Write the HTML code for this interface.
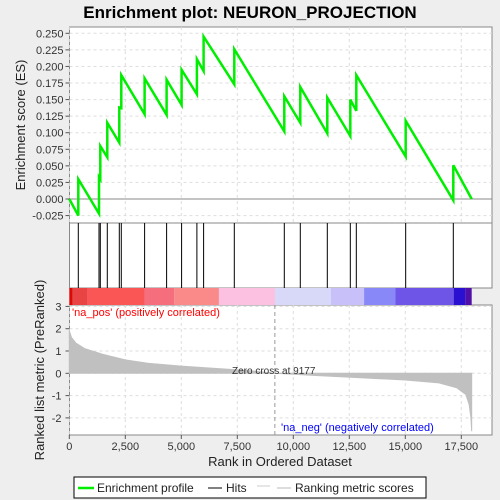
<!DOCTYPE html>
<html><head><meta charset="utf-8"><style>
body{margin:0;background:#eeeeee;}
svg{display:block;font-family:"Liberation Sans",sans-serif;}
</style></head><body>
<svg id="c" width="500" height="500">
<text x="250" y="18" text-anchor="middle" font-size="17" font-weight="bold">Enrichment plot: NEURON_PROJECTION</text>
</svg>
<script>
const hitRanks=[402,1326,1384,1696,2232,2321,3362,4344,5013,5696,5996,7366,9598,10312,11518,12545,12813,15017,17143];
const esRanks=[0,402,402,1326,1326,1384,1384,1696,1696,2232,2232,2321,2321,3362,3362,4344,4344,5013,5013,5696,5696,5996,5996,7366,7366,9598,9598,10312,10312,11518,11518,12545,12545,12813,12813,15017,15017,17143,17143,17964];
const esValues=[0,-0.025,0.030,-0.022,0.033,0.030,0.080,0.063,0.115,0.085,0.138,0.137,0.187,0.128,0.182,0.127,0.180,0.142,0.195,0.158,0.211,0.193,0.245,0.173,0.226,0.102,0.155,0.115,0.169,0.099,0.153,0.095,0.150,0.133,0.187,0.064,0.118,-0.002,0.051,0.0];
const esTicks=[-0.025,0,0.025,0.05,0.075,0.1,0.125,0.15,0.175,0.2,0.225,0.25];
const rankTicks=[0,2500,5000,7500,10000,12500,15000,17500];
const metricTicks=[-2,-1,0,1,2,3];
const metricRanks=[0,100,300,700,1500,2500,3500,5000,6500,8000,9177,11000,13000,15000,16500,17300,17700,17850,17930,17964];
const metricValues=[1.9,1.6,1.35,1.1,0.85,0.6,0.45,0.32,0.22,0.12,0,-0.1,-0.2,-0.3,-0.43,-0.65,-0.95,-1.4,-2.0,-2.6];
const segStarts=[0,150,820,3360,4680,6680,9180,11680,13160,14560,17160,17680];
const segColors=["#dd0808","#e84444","#fa5656","#f56e7e","#fa8a8a","#fcc0e0","#d8d8f8","#c8c0f8","#8888f8","#6e55e8","#2a10d0","#5010a8"];
const N=17964;
const svg=document.getElementById('c');const NS='http://www.w3.org/2000/svg';
const L=69.5,R=492;
const xS=r=>69.3+r*0.02240;
const yES=v=>199-v*(165.7/0.25);
const yM=v=>373.3-v*22.3;
function mk(t,a,p){const e=document.createElementNS(NS,t);for(const k in a)e.setAttribute(k,a[k]);(p||svg).appendChild(e);return e;}
let p1=mk('rect',{x:L,y:27,width:R-L,height:196,fill:'#fff',stroke:'#888'});

let p2=mk('rect',{x:L,y:223,width:R-L,height:65,fill:'#fff',stroke:'#888'});

let p3=mk('rect',{x:L,y:305,width:R-L,height:130,fill:'#fff',stroke:'#888'});

rankTicks.forEach(r=>{const x=xS(r);
 mk('line',{x1:x,x2:x,y1:27,y2:223,stroke:'#ddd','stroke-dasharray':'3,3'});
 mk('line',{x1:x,x2:x,y1:305,y2:435,stroke:'#ddd','stroke-dasharray':'3,3'});
 mk('line',{x1:x,x2:x,y1:435,y2:439,stroke:'#555'});
 const t=mk('text',{x:x,y:450,'text-anchor':'middle','font-size':11,fill:'#333'});t.textContent=r.toLocaleString('en-US');
 });
esTicks.forEach(v=>{const y=yES(v);
 mk('line',{x1:L,x2:R,y1:y,y2:y,stroke:'#ddd','stroke-dasharray':'3,3'});
 mk('line',{x1:L-4,x2:L,y1:y,y2:y,stroke:'#555'});
 const t=mk('text',{x:L-6,y:y+4,'text-anchor':'end','font-size':11,fill:'#333'});t.textContent=v.toFixed(3);
 });
metricTicks.forEach(v=>{const y=yM(v);
 mk('line',{x1:L,x2:R,y1:y,y2:y,stroke:'#ddd','stroke-dasharray':'3,3'});
 mk('line',{x1:L-4,x2:L,y1:y,y2:y,stroke:'#555'});
 const t=mk('text',{x:L-8,y:y+4,'text-anchor':'end','font-size':11,fill:'#333'});t.textContent=v;
 });
mk('line',{x1:L,x2:R,y1:yES(0),y2:yES(0),stroke:'#888'});
let pts=esRanks.map((r,i)=>xS(r)+','+yES(esValues[i])).join(' ');
let es=mk('polyline',{points:pts,fill:'none',stroke:'#00ee00','stroke-width':2.5});

hitRanks.forEach(r=>{const h=mk('line',{x1:xS(r),x2:xS(r),y1:223,y2:288,stroke:'#000','stroke-width':1});
 });
segStarts.forEach((s,i)=>{const e=i<segStarts.length-1?segStarts[i+1]:N;
 const b=mk('rect',{x:xS(s),y:288,width:xS(e)-xS(s),height:17,fill:segColors[i]});
 });
let ap='M'+xS(0)+','+yM(0);metricRanks.forEach((r,i)=>{ap+=' L'+xS(r)+','+yM(metricValues[i]);});ap+=' L'+xS(N)+','+yM(0)+'Z';
let ar=mk('path',{d:ap,fill:'#c0c0c0',stroke:'#c0c0c0'});

mk('line',{x1:xS(9177),x2:xS(9177),y1:305,y2:435,stroke:'#999','stroke-dasharray':'4,3'});
</script>
<svg width="500" height="500" style="position:absolute;left:0;top:0;font-family:'Liberation Sans',sans-serif">
<text x="72" y="316" font-size="11" fill="#ff0000">'na_pos' (positively correlated)</text>
<text x="281" y="431" font-size="11" fill="#0000ff">'na_neg' (negatively correlated)</text>
<text x="232" y="374" font-size="10" fill="#333">Zero cross at 9177</text>
<text x="280" y="466" text-anchor="middle" font-size="13" fill="#222">Rank in Ordered Dataset</text>
<text transform="translate(25,125) rotate(-90)" text-anchor="middle" font-size="13" fill="#222">Enrichment score (ES)</text>
<text transform="translate(44,370) rotate(-90)" text-anchor="middle" font-size="13" fill="#222">Ranked list metric (PreRanked)</text>
<g>
<rect x="74" y="477" width="352" height="21" fill="#fff" stroke="#000"/>
<line x1="78" x2="94" y1="488" y2="488" stroke="#00ee00" stroke-width="2.5"/>
<text x="97" y="492" font-size="12" fill="#222">Enrichment profile</text>
<line x1="208" x2="222" y1="488" y2="488" stroke="#000"/>
<text x="226" y="492" font-size="12" fill="#222">Hits</text>
<line x1="257" x2="270" y1="486" y2="486" stroke="#ccc"/>
<line x1="277" x2="291" y1="488" y2="488" stroke="#bbb"/>
<text x="295" y="492" font-size="12" fill="#222">Ranking metric scores</text>
</g>
</svg>
</body></html>
